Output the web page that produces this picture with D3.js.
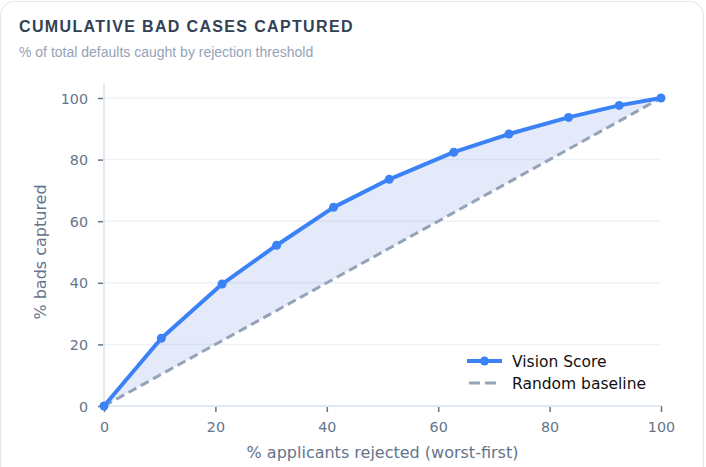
<!DOCTYPE html>
<html>
<head>
<meta charset="utf-8">
<script src="https://cdn.jsdelivr.net/npm/d3@7/dist/d3.min.js"></script>
<style>
  html, body { margin: 0; padding: 0; background: #ffffff; }
  svg { display: block; }
</style>
</head>
<body>
<svg id="chart" width="706" height="467"></svg>
<script>
// ---- data ----
const rejectedPct = [0, 10.3, 21.2, 31.0, 41.2, 51.2, 62.8, 72.7, 83.4, 92.5, 100];
const visionScore = [0, 22.0, 39.6, 52.2, 64.5, 73.6, 82.4, 88.3, 93.7, 97.6, 100];
const randomBaseline = rejectedPct.slice(); // random model: % captured = % rejected
const xTicks = [0, 20, 40, 60, 80, 100];
const yTicks = [0, 20, 40, 60, 80, 100];
const seriesNames = ["Vision Score", "Random baseline"];
const titleText = "CUMULATIVE BAD CASES CAPTURED";
const subtitleText = "% of total defaults caught by rejection threshold";
const xTitle = "% applicants rejected (worst-first)";
const yTitle = "% bads captured";

// ---- layout ----
const W = 706, H = 467;
const plot = { left: 104, right: 661, top: 98, bottom: 406 };
const svg = d3.select("#chart");

// card
svg.append("rect")
  .attr("x", 0.5).attr("y", 1.5)
  .attr("width", 703).attr("height", 500)
  .attr("rx", 14).attr("ry", 14)
  .attr("fill", "#ffffff")
  .attr("stroke", "#e2e8f0").attr("stroke-width", 1.2);

svg.append("text")
  .attr("x", 19).attr("y", 32)
  .attr("font-family", "'Liberation Sans', Arial, sans-serif")
  .attr("font-weight", 700).attr("font-size", 16)
  .attr("letter-spacing", "1.35px")
  .attr("fill", "#334155")
  .text(titleText);

svg.append("text")
  .attr("x", 19).attr("y", 57)
  .attr("font-family", "'Liberation Sans', Arial, sans-serif")
  .attr("font-size", 14)
  .attr("fill", "#94a3b8")
  .text(subtitleText);

const x = d3.scaleLinear().domain([0, 100]).range([plot.left, plot.right]);
const y = d3.scaleLinear().domain([0, 100]).range([plot.bottom, plot.top]);

const axisFont = "'DejaVu Sans', sans-serif";

// gridlines
svg.append("g")
  .selectAll("line")
  .data(yTicks.filter(d => d !== 0))
  .join("line")
  .attr("x1", plot.left).attr("x2", plot.right)
  .attr("y1", d => y(d)).attr("y2", d => y(d))
  .attr("stroke", "#eef2f7").attr("stroke-width", 1.5);

// fill between curve and baseline
const pts = rejectedPct.map((r, i) => ({ r, v: visionScore[i], b: randomBaseline[i] }));
svg.append("path")
  .datum(pts)
  .attr("fill", "rgba(90,125,220,0.16)")
  .attr("d", d3.area().x(d => x(d.r)).y0(d => y(d.b)).y1(d => y(d.v)));

// axes
const xAxis = svg.append("g")
  .attr("transform", `translate(0,${plot.bottom})`)
  .call(d3.axisBottom(x).tickValues(xTicks).tickSize(6).tickPadding(10).tickFormat(d3.format("d")));
const yAxis = svg.append("g")
  .attr("transform", `translate(${plot.left},0)`)
  .call(d3.axisLeft(y).tickValues(yTicks).tickSize(6).tickPadding(10).tickFormat(d3.format("d")));

[xAxis, yAxis].forEach(g => {
  g.select(".domain").remove();
  g.selectAll(".tick line").attr("stroke", "#64748b").attr("stroke-width", 1.5);
  g.selectAll(".tick text")
    .attr("fill", "#64748b")
    .attr("font-family", axisFont)
    .attr("font-size", 14.3);
});
yAxis.selectAll(".tick text").attr("dy", "0.36em");

// axis lines
svg.append("line")
  .attr("x1", plot.left).attr("x2", plot.right)
  .attr("y1", plot.bottom).attr("y2", plot.bottom)
  .attr("stroke", "#e2e8f0").attr("stroke-width", 2);
svg.append("line")
  .attr("x1", plot.left).attr("x2", plot.left)
  .attr("y1", plot.top - 14).attr("y2", plot.bottom)
  .attr("stroke", "#e2e8f0").attr("stroke-width", 2);

// axis titles
svg.append("text")
  .attr("x", (plot.left + plot.right) / 2).attr("y", 458)
  .attr("text-anchor", "middle")
  .attr("font-family", axisFont).attr("font-size", 16)
  .attr("fill", "#64748b")
  .text(xTitle);
svg.append("text")
  .attr("transform", `translate(46,${(plot.top + plot.bottom) / 2}) rotate(-90)`)
  .attr("text-anchor", "middle")
  .attr("font-family", axisFont).attr("font-size", 16)
  .attr("fill", "#64748b")
  .text(yTitle);

// baseline (dashed)
svg.append("path")
  .datum(pts)
  .attr("fill", "none")
  .attr("stroke", "#94a3b8").attr("stroke-width", 3)
  .attr("stroke-dasharray", "9,5")
  .attr("d", d3.line().x(d => x(d.r)).y(d => y(d.b)));

// vision score line
svg.append("path")
  .datum(pts)
  .attr("fill", "none")
  .attr("stroke", "#3b82f6").attr("stroke-width", 4)
  .attr("stroke-linejoin", "round")
  .attr("d", d3.line().x(d => x(d.r)).y(d => y(d.v)));

svg.append("g")
  .selectAll("circle")
  .data(pts)
  .join("circle")
  .attr("cx", d => x(d.r)).attr("cy", d => y(d.v))
  .attr("r", 4.5)
  .attr("fill", "#3b82f6");

// legend
const lg = svg.append("g").attr("transform", "translate(467,361)");
lg.append("line").attr("x1", 0).attr("x2", 35).attr("y1", 0).attr("y2", 0)
  .attr("stroke", "#3b82f6").attr("stroke-width", 4);
lg.append("circle").attr("cx", 17.5).attr("cy", 0).attr("r", 4.5).attr("fill", "#3b82f6");
lg.append("text").attr("x", 45).attr("y", 0).attr("dy", "0.36em")
  .attr("font-family", axisFont).attr("font-size", 15.5).attr("fill", "#111111")
  .text(seriesNames[0]);
lg.append("line").attr("x1", 2).attr("x2", 30).attr("y1", 22).attr("y2", 22)
  .attr("stroke", "#94a3b8").attr("stroke-width", 3).attr("stroke-dasharray", "11,5");
lg.append("text").attr("x", 45).attr("y", 22).attr("dy", "0.36em")
  .attr("font-family", axisFont).attr("font-size", 15.5).attr("fill", "#111111")
  .text(seriesNames[1]);
</script>
</body>
</html>
